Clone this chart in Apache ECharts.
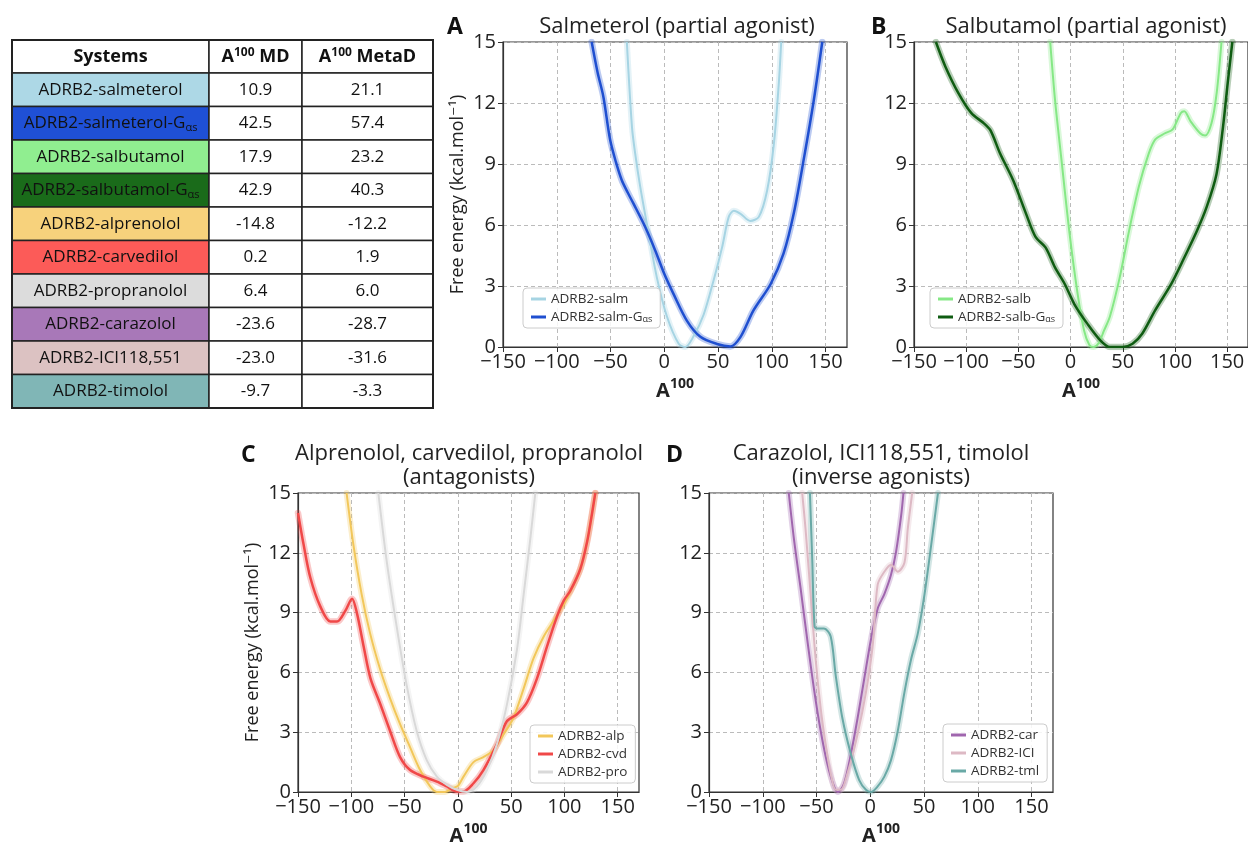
<!DOCTYPE html>
<html><head><meta charset="utf-8">
<script src="https://cdn.jsdelivr.net/npm/echarts@6/dist/echarts.min.js"></script>
<style>html,body{margin:0;padding:0;background:#fff}#c{width:1248px;height:847px}</style>
</head><body><div id="c"></div>
<script>
// ---------------- data ----------------
const systems = ['ADRB2-salmeterol','ADRB2-salmeterol-Gαs','ADRB2-salbutamol','ADRB2-salbutamol-Gαs','ADRB2-alprenolol','ADRB2-carvedilol','ADRB2-propranolol','ADRB2-carazolol','ADRB2-ICI118,551','ADRB2-timolol'];
const mdValues = [10.9, 42.5, 17.9, 42.9, -14.8, 0.2, 6.4, -23.6, -23.0, -9.7];
const metadValues = [21.1, 57.4, 23.2, 40.3, -12.2, 1.9, 6.0, -28.7, -31.6, -3.3];
const tableHeaders = ['Systems', 'A{sup|100} MD', 'A{sup|100} MetaD'];
const xTicks = [-150, -100, -50, 0, 50, 100, 150];
const yTicks = [0, 3, 6, 9, 12, 15];

// Panel A
const salm = [[-34.8,15],[-30,10.8],[-27,9.5],[-22.4,7.9],[-14.6,5.6],[-6.8,3.4],[2.5,1.5],[13.4,0.16],[19.6,0],[27,0.5],[36.7,1.6],[46,3.3],[53.8,4.9],[60,6.4],[64.7,6.7],[71,6.55],[80,6.2],[88,6.4],[95.7,7.7],[102,10],[106.6,13],[108.8,15]];
const salmG = [[-67.5,15],[-62,13.5],[-56.6,12.3],[-50.4,10.2],[-45,9.1],[-39.5,8.2],[-34,7.6],[-28.6,7.05],[-17.7,5.9],[-8.4,4.75],[0,3.6],[8.7,2.6],[21,1.3],[33.6,0.5],[49,0.15],[61.5,0.03],[71,0.5],[83,1.8],[99,3.1],[111,4.6],[120.6,6.6],[130,9.3],[139,12.1],[147,15]];
// Panel B
const salb = [[-19.5,15],[-14.8,12.1],[-8.7,9.2],[-1,5.6],[6.8,2.6],[13,0.8],[18,0.1],[22,0],[27,0.2],[32,0.8],[37.7,1.5],[47,3.4],[56,5.7],[65.5,7.9],[74.8,9.5],[81,10.2],[90,10.5],[97.8,10.7],[105.5,11.5],[108.9,11.6],[115,11.1],[124.4,10.5],[129,10.4],[135,11],[140,12.5],[144.6,15]];
const salbG = [[-129,15],[-120,13.8],[-107.6,12.5],[-95,11.5],[-83,11.0],[-76.7,10.65],[-67.4,9.5],[-55,8.2],[-42.7,6.56],[-33.4,5.4],[-24,4.9],[-14.8,3.9],[-5.6,3.1],[3.7,2.1],[16,1.15],[28.5,0.33],[37.7,0],[50,0],[59.4,0.16],[68.6,0.65],[81,1.8],[96.5,3.1],[109,4.4],[121,5.7],[130.5,6.9],[139.8,8.5],[146,10.8],[150.6,13],[155,15]];
// Panel C
const alp = [[-104.4,15],[-98,12.4],[-90.3,9.93],[-82.4,7.97],[-73,6.17],[-63.6,4.7],[-54.2,3.4],[-44.8,2.24],[-35.4,1.1],[-26,0.28],[-19.7,0],[-12,0],[-5,0.2],[0,0.3],[5.3,0.77],[14.7,1.5],[24,1.75],[33.5,2.1],[43,2.9],[52,3.7],[61.8,5.2],[71,6.7],[80.6,7.8],[90,8.6],[99.4,9.4],[108.8,10.4],[115,11.2],[121.3,12.55],[126,14],[129,15]];
const cvd = [[-150,14.0],[-144.7,12.4],[-138.4,10.75],[-129,9.3],[-119.6,8.55],[-113.4,8.55],[-105.5,9.1],[-99.3,9.7],[-94.6,8.95],[-88.4,7.3],[-82,5.7],[-72.7,4.4],[-63.6,3.06],[-54.2,1.75],[-44.8,1.1],[-32.3,0.77],[-19.7,0.52],[-10.3,0.28],[-1,0.03],[5.3,0.03],[14.7,0.44],[24,1.1],[36.7,2.4],[46,3.55],[55.5,3.9],[64.9,4.5],[74.3,5.7],[83.7,7.3],[93,8.8],[99.4,9.6],[105.6,10.1],[115,11.2],[121.3,12.55],[126,14.0],[129,15]];
const pro = [[-74.6,15],[-66.8,11.6],[-57.4,8.3],[-48,5.35],[-38.6,3.06],[-29.2,1.6],[-19.7,0.77],[-10.3,0.36],[-1,0.11],[8.5,0],[17.9,0.28],[27.3,1.1],[36.7,2.4],[46,4.37],[55.5,7.15],[61.8,9.93],[68,12.7],[72.7,15]];
// Panel D
const car = [[-75.8,15],[-71,12.7],[-64.9,10.26],[-58.6,7.64],[-52.4,5.19],[-46.1,3.06],[-39.9,1.42],[-33.7,0.28],[-30,0],[-24.3,0.44],[-18,1.9],[-11.8,3.7],[-5.6,5.68],[0.6,7.64],[6.9,9.2],[13.1,9.93],[19.3,10.9],[24,12.05],[28.7,13.85],[30.9,15]];
const ici = [[-63.3,15],[-60.2,13.2],[-55.5,9.93],[-50.8,6.66],[-46.1,4.2],[-41.5,2.4],[-36.8,0.93],[-32.1,0.11],[-27.4,0.11],[-21.2,0.93],[-11.8,2.9],[-4,5.0],[2.2,7.3],[6.9,10.4],[13.1,11.05],[19.3,11.4],[25.6,11.05],[31.8,11.5],[34.9,13.2],[39,15]];
const tml = [[-56.1,15],[-53.9,11.56],[-51.8,8.3],[-49.3,8.2],[-43,8.2],[-36.8,7.8],[-32.1,5.84],[-25.9,3.7],[-18,1.9],[-10.3,0.6],[-4,0.11],[0.6,0],[6.9,0.28],[13.1,0.77],[19.3,1.6],[25.6,3.06],[31.8,5.0],[38,6.66],[44.3,7.97],[50.5,9.93],[56.7,12.4],[63,15]];

// ---------------- styles ----------------
const FONT = "'Open Sans', 'DejaVu Sans', sans-serif";
const rowColors = ['#add8e6','#1f50d6','#90ee90','#1a6b1a','#f7d27c','#fc5b58','#dcdcdc','#a878b8','#dcc2c2','#80b6b6'];
const lineColors = {
  salm:'#a6d4e3', salmG:'#1f4fd0', salb:'#86e886', salbG:'#0f5c12',
  alp:'#f2c75a', cvd:'#f04848', pro:'#d9d9d9',
  car:'#a066ae', ici:'#ddb9c4', tml:'#69a9a6'
};
const grids = [
  {left:503, top:42, width:344, height:305},
  {left:914, top:42, width:346, height:305},
  {left:298, top:493, width:341, height:306},
  {left:709, top:493, width:344, height:306}
];
const subify = s => s.replace('Gαs', 'G{sub|αs}');

// ---------------- table (graphic) ----------------
const colX = [12, 209, 302, 433];
const headerTop = 40, headerH = 33, rowH = 33.5;
const graphics = [];
const cellRich = {
  sub:{fontSize:11, fontFamily:FONT, verticalAlign:'bottom', lineHeight:14, fill:'#111'},
  sup:{fontSize:12, fontFamily:FONT, fontWeight:'bold', verticalAlign:'top', lineHeight:12, fill:'#111'}
};
function cell(x0, x1, y0, h, fill, text, bold, size) {
  graphics.push({type:'rect', shape:{x:x0, y:y0, width:x1-x0, height:h}, style:{fill:fill, stroke:'#222', lineWidth:1.5}, z:1});
  graphics.push({type:'text', x:(x0+x1)/2, y:y0+h/2, z:2, style:{text:text, fill:'#111', fontSize:size, fontFamily:FONT, fontWeight:bold?'bold':'normal', align:'center', verticalAlign:'middle', lineHeight:20, rich:cellRich}});
}
for (let c = 0; c < 3; c++) cell(colX[c], colX[c+1], headerTop, headerH, '#fff', tableHeaders[c], true, 18);
for (let r = 0; r < systems.length; r++) {
  const y0 = headerTop + headerH + r*rowH;
  cell(colX[0], colX[1], y0, rowH, rowColors[r], subify(systems[r]), false, 17);
  cell(colX[1], colX[2], y0, rowH, '#fff', mdValues[r].toFixed(1), false, 17);
  cell(colX[2], colX[3], y0, rowH, '#fff', metadValues[r].toFixed(1), false, 17);
}
graphics.push({type:'rect', shape:{x:colX[0], y:headerTop, width:colX[3]-colX[0], height:headerH+rowH*systems.length}, style:{fill:'none', stroke:'#222', lineWidth:2}, z:3});

// ---------------- axes ----------------
const nameRich = {
  a:{fontSize:20, fontWeight:'bold', fontFamily:FONT, color:'#222', verticalAlign:'bottom', lineHeight:24},
  s:{fontSize:14, fontWeight:'bold', fontFamily:FONT, color:'#222', verticalAlign:'top', lineHeight:14}
};
const fmt = v => v < 0 ? '\u2212' + Math.abs(v) : String(v);
const xAxes = grids.map((g, i) => ({
  gridIndex:i, type:'value', min:-150, max:170, interval:50,
  axisLine:{show:true, onZero:false, lineStyle:{color:'#333', width:1.2}},
  axisTick:{show:true, length:5, customValues:xTicks, lineStyle:{color:'#333'}},
  axisLabel:{customValues:xTicks, formatter:fmt, fontSize:20, color:'#222', fontFamily:FONT, margin:5},
  splitLine:{show:true, lineStyle:{type:[4,3], color:'#bbb', width:1}},
  name:'{a|A}{s|100}', nameLocation:'middle', nameGap:30,
  nameTextStyle:{rich:nameRich}
}));
const yAxes = grids.map((g, i) => ({
  gridIndex:i, type:'value', min:0, max:15, interval:3,
  axisLine:{show:true, onZero:false, lineStyle:{color:'#333', width:1.2}},
  axisTick:{show:true, length:5, lineStyle:{color:'#333'}},
  axisLabel:{fontSize:20, color:'#222', fontFamily:FONT, margin:7},
  splitLine:{show:true, lineStyle:{type:[4,3], color:'#bbb', width:1}},
  name:(i === 0 || i === 2) ? 'Free energy (kcal.mol\u207B\u00B9)' : '',
  nameLocation:'middle', nameGap:36, nameRotate:90,
  nameTextStyle:{fontSize:18, color:'#222', fontFamily:FONT}
}));

// ---------------- series ----------------
const series = [];
function add(name, data, color, gi, w) {
  series.push({type:'line', name:name+' band', xAxisIndex:gi, yAxisIndex:gi, data:data, smooth:0.3, showSymbol:false, silent:true,
    lineStyle:{width:w+4, color:color, opacity:0.3, cap:'round', join:'round'}, z:2});
  series.push({type:'line', name:name, xAxisIndex:gi, yAxisIndex:gi, data:data, smooth:0.3, showSymbol:false,
    lineStyle:{width:w, color:color, join:'round'}, itemStyle:{color:color}, z:3});
}
add('ADRB2-salm', salm, lineColors.salm, 0, 2);
add('ADRB2-salm-Gαs', salmG, lineColors.salmG, 0, 2.5);
add('ADRB2-salb', salb, lineColors.salb, 1, 2);
add('ADRB2-salb-Gαs', salbG, lineColors.salbG, 1, 2.5);
add('ADRB2-alp', alp, lineColors.alp, 2, 2);
add('ADRB2-cvd', cvd, lineColors.cvd, 2, 2.5);
add('ADRB2-pro', pro, lineColors.pro, 2, 2);
add('ADRB2-car', car, lineColors.car, 3, 2);
add('ADRB2-ICI', ici, lineColors.ici, 3, 2);
add('ADRB2-tml', tml, lineColors.tml, 3, 2);

const legendBase = {
  orient:'vertical', icon:'rect', itemWidth:15, itemHeight:3, itemGap:4,
  backgroundColor:'rgba(255,255,255,0.85)', borderColor:'#ccc', borderWidth:1, borderRadius:4, padding:[4,8,4,8],
  formatter:subify,
  textStyle:{fontSize:13.5, color:'#333', fontFamily:FONT, rich:{sub:{fontSize:9, fontFamily:FONT, color:'#333', verticalAlign:'bottom', lineHeight:11}}},
  selectedMode:false
};
const legends = [
  Object.assign({}, legendBase, {left:523, top:288, data:['ADRB2-salm','ADRB2-salm-Gαs']}),
  Object.assign({}, legendBase, {left:930, top:288, data:['ADRB2-salb','ADRB2-salb-Gαs']}),
  Object.assign({}, legendBase, {left:530, top:725, data:['ADRB2-alp','ADRB2-cvd','ADRB2-pro']}),
  Object.assign({}, legendBase, {left:943, top:724, data:['ADRB2-car','ADRB2-ICI','ADRB2-tml']})
];

const titleStyle = {fontSize:22, fontWeight:'normal', color:'#222', fontFamily:FONT, lineHeight:24};
const letterStyle = {fontSize:23, fontWeight:'bold', color:'#111', fontFamily:FONT};
const titles = [
  {text:'Salmeterol (partial agonist)', left:677, top:15, textAlign:'center', padding:0, textStyle:titleStyle},
  {text:'Salbutamol (partial agonist)', left:1086, top:15, textAlign:'center', padding:0, textStyle:titleStyle},
  {text:'Alprenolol, carvedilol, propranolol\n(antagonists)', left:469, top:442, textAlign:'center', padding:0, textStyle:titleStyle},
  {text:'Carazolol, ICI118,551, timolol\n(inverse agonists)', left:881, top:442, textAlign:'center', padding:0, textStyle:titleStyle},
  {text:'A', left:447, top:16, padding:0, textStyle:letterStyle},
  {text:'B', left:871, top:16, padding:0, textStyle:letterStyle},
  {text:'C', left:241, top:444, padding:0, textStyle:letterStyle},
  {text:'D', left:666, top:444, padding:0, textStyle:letterStyle}
];

const chart = echarts.init(document.getElementById('c'), null, {renderer:'canvas'});
chart.setOption({
  backgroundColor:'#fff',
  animation:false,
  textStyle:{fontFamily:FONT},
  title:titles,
  legend:legends,
  grid:grids.map(g => Object.assign({show:true, borderColor:'#333', borderWidth:1.2, backgroundColor:'transparent', containLabel:false}, g)),
  xAxis:xAxes,
  yAxis:yAxes,
  series:series,
  graphic:{elements:graphics}
});
</script></body></html>
